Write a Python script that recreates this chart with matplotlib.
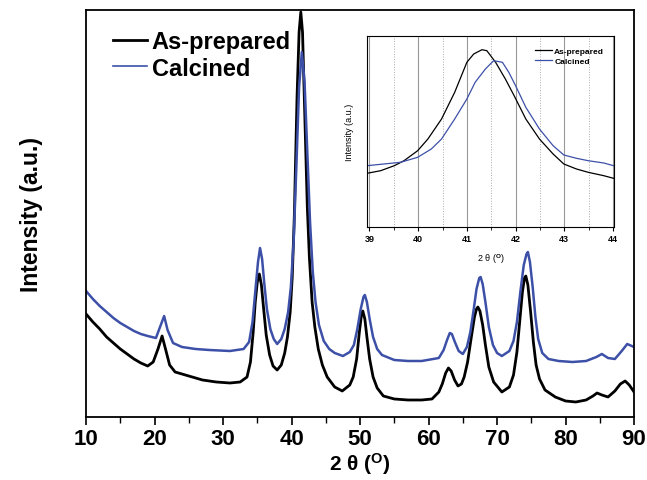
import numpy as np
import matplotlib.pyplot as plt
from matplotlib.ticker import MultipleLocator

plt.rcParams.update({
    "font.family": "Liberation Sans",
    "font.weight": "bold",
    "mathtext.fontset": "custom",
    "mathtext.rm": "Liberation Sans:bold",
    "mathtext.bf": "Liberation Sans:bold",
    "mathtext.it": "Liberation Sans:bold",
})

# main pattern (2theta, intensity a.u.)
asprep_x = [10, 11, 12, 13, 14, 15, 16, 17, 18, 19, 19.8, 20.5, 21.1, 21.6, 22.2, 23, 25, 27, 29, 31,
            32.5, 33.5, 34.0, 34.4, 34.7, 35.0, 35.3, 35.6, 35.9, 36.3, 36.8, 37.3, 37.9, 38.5, 39.0,
            39.4, 39.8, 40.1, 40.4, 40.8, 41.1, 41.35, 41.6, 41.9, 42.3, 42.6, 43.0, 43.4, 43.9, 44.5,
            45.2, 46.3, 47.4, 48.5, 49.0, 49.5, 49.9, 50.2, 50.4, 50.7, 51.0, 51.4, 51.9, 52.5, 53.4,
            55, 57, 59, 60.5, 61.5, 62.0, 62.5, 62.9, 63.3, 63.8, 64.3, 64.8, 65.2, 65.7, 66.2, 66.7,
            67.0, 67.2, 67.5, 67.9, 68.3, 68.8, 69.5, 70.7, 71.8, 72.4, 72.9, 73.3, 73.7, 74.0, 74.2,
            74.5, 74.9, 75.3, 75.7, 76.2, 77, 78.5, 80, 81.5, 83, 84, 84.6, 85.3, 86.2, 87.2, 88.0,
            88.7, 89.3, 90]
asprep_y = [103, 95, 88, 80, 74, 68, 63, 58, 54, 51, 55, 68, 81, 68, 52, 45, 41, 37, 35, 34,
            35, 40, 55, 85, 115, 135, 143, 132, 110, 82, 62, 51, 47, 52, 64,
            80, 105, 140, 200, 320, 385, 405, 385, 310, 210, 160, 115, 90, 68, 52,
            40, 30, 26, 32, 40, 58, 85, 102, 106, 98, 80, 58, 40, 29, 21,
            18, 17, 17, 18, 25, 33, 44, 49, 46, 37, 31, 33, 40, 55, 78, 100,
            108, 110, 106, 92, 72, 50, 35, 25, 30, 42, 65, 95, 125, 139, 141,
            132, 105, 75, 52, 38, 27, 20, 16, 15, 17, 21, 24, 22, 20, 26, 33,
            36, 32, 25]

calc_x = [10, 11, 12, 13, 14, 15, 16, 17, 18, 19, 20.2, 20.8, 21.4, 21.9, 22.7, 24, 26, 28, 31, 33,
          33.8, 34.3, 34.7, 35.1, 35.4, 35.7, 36.0, 36.4, 36.9, 37.4, 37.9, 38.5, 39.0, 39.5, 39.9,
          40.3, 40.7, 41.1, 41.5, 41.9, 42.3, 42.7, 43.1, 43.5, 44.0, 44.7, 45.5, 46.3, 47.5, 48.5,
          49.1, 49.6, 50.1, 50.5, 50.7, 51.0, 51.4, 51.9, 52.5, 53.2, 55, 57, 59, 61.5, 62.2, 62.7,
          63.1, 63.4, 63.9, 64.4, 65.0, 65.6, 66.1, 66.6, 67.0, 67.4, 67.6, 67.9, 68.3, 68.8, 69.4,
          70.0, 70.7, 71.8, 72.4, 72.9, 73.4, 73.9, 74.3, 74.5, 74.8, 75.2, 75.6, 76.0, 76.6, 77.5,
          79, 81, 83, 84.5, 85.3, 86.2, 87.2, 88.2, 89, 90]
calc_y = [126, 118, 111, 105, 99, 94, 90, 86, 83, 81, 79, 90, 101, 87, 74, 70, 68, 67, 66, 68,
          75, 95, 125, 155, 169, 158, 135, 108, 88, 78, 73, 78, 88, 105, 130,
          175, 250, 330, 365, 335, 265, 195, 145, 115, 92, 76, 68, 64, 61, 65,
          72, 88, 108, 120, 122, 115, 98, 80, 68, 62, 57, 56, 56, 59, 67, 77,
          84, 83, 74, 66, 63, 70, 85, 108, 128, 139, 140, 133, 115, 90, 72,
          64, 61, 66, 76, 95, 125, 152, 163, 165, 155, 130, 100, 78, 64, 58,
          56, 55, 56, 60, 63, 59, 58, 66, 73, 70]

# inset zoom of the main reflection
ins_asprep_x = [38.95, 39.23, 39.51, 39.71, 39.99, 40.20, 40.48, 40.75, 41.0, 41.14, 41.31, 41.41,
                41.59, 41.79, 41.97, 42.21, 42.49, 42.77, 42.99, 43.25, 43.49, 43.81, 44.01]
ins_asprep_y = [53.7, 56.3, 61.3, 66.3, 76.3, 88, 108, 134.7, 164.7, 173, 177.3, 176.3,
                164.7, 148, 131.3, 108, 88, 73, 63, 58, 54.7, 51.3, 48.7]
ins_calc_x = [38.95, 39.64, 39.99, 40.27, 40.48, 40.75, 41.0, 41.17, 41.38, 41.55, 41.73, 41.86,
              42.0, 42.21, 42.49, 42.77, 42.99, 43.25, 43.49, 43.81, 44.01]
ins_calc_y = [61.3, 64.7, 69.7, 78, 88, 108, 128, 144.7, 158, 166.3, 164.7, 154.7,
              141.3, 119.7, 98, 81.3, 72, 68.7, 66.3, 64, 61.3]

BLUE = "#3d50a8"

fig = plt.figure(figsize=(6.47, 4.81), dpi=100)
ax = fig.add_axes([0.133, 0.131, 0.847, 0.846])
ax.plot(asprep_x, asprep_y, color="black", lw=2.0, label="As-prepared")
ax.plot(calc_x, calc_y, color=BLUE, lw=1.8, label="Calcined")
ax.set_xlim(10, 90)
ax.set_ylim(0, 407)
ax.set_yticks([])
ax.xaxis.set_major_locator(MultipleLocator(10))
ax.xaxis.set_minor_locator(MultipleLocator(5))
ax.tick_params(axis="x", which="major", direction="out", length=6, width=1.2, labelsize=16, pad=2)
ax.tick_params(axis="x", which="minor", direction="out", length=4, width=1.0)
for s in ax.spines.values():
    s.set_linewidth(1.3)
ax.set_xlabel(r"2 θ ($^{\mathbf{O}}$)", fontsize=15, fontweight="bold", labelpad=0.5)
ax.set_ylabel("Intensity (a.u.)", fontsize=16.5, fontweight="bold", labelpad=31)
leg = ax.legend(loc="upper left", bbox_to_anchor=(0.01, 1.003), frameon=False,
                fontsize=17, handlelength=1.45, handletextpad=0.2, labelspacing=0.15)
leg.get_lines()[1].set_linewidth(1.2)

# inset
axi = fig.add_axes([367 / 647, (481 - 228) / 481, 247 / 647, 191 / 481])
for v in range(39, 45):
    axi.axvline(v, color="#999999", lw=0.8, zorder=0)
for v in np.arange(39.5, 44, 1.0):
    axi.axvline(v, color="#aaaaaa", lw=0.7, ls=":", zorder=0)
axi.plot(ins_asprep_x, ins_asprep_y, color="black", lw=0.9, label="As-prepared")
axi.plot(ins_calc_x, ins_calc_y, color=BLUE, lw=0.9, label="Calcined")
axi.set_xlim(38.95, 44.02)
axi.set_ylim(0, 191)
axi.set_yticks([])
axi.xaxis.set_major_locator(MultipleLocator(1))
axi.xaxis.set_minor_locator(MultipleLocator(0.5))
axi.tick_params(axis="x", which="major", direction="out", length=3, width=0.8, labelsize=6.5, pad=2)
axi.tick_params(axis="x", which="minor", direction="out", length=2, width=0.6)
for s in axi.spines.values():
    s.set_linewidth(0.8)
axi.set_xlabel(r"2 θ ($^{\mathbf{O}}$)", fontsize=6.5, labelpad=6)
axi.set_ylabel("Intensity (a.u.)", fontsize=6.5, labelpad=9)
axi.legend(loc="upper right", bbox_to_anchor=(0.99, 0.98), frameon=False, fontsize=6,
           handlelength=2.0, handletextpad=0.3, labelspacing=0.2)

fig.savefig("out.png", dpi=100)
